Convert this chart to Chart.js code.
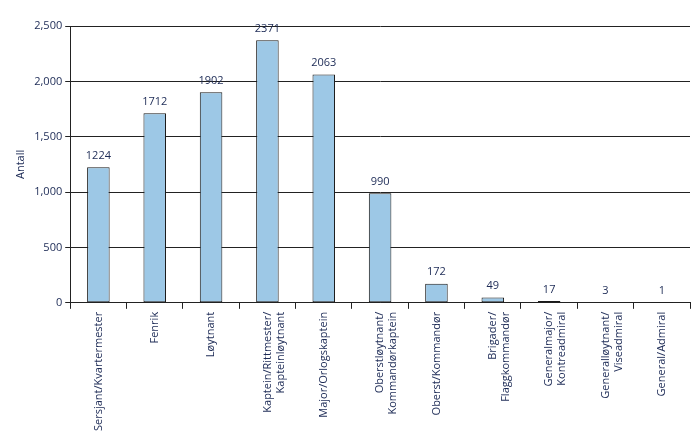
<!DOCTYPE html>
<html>
<head>
<meta charset="utf-8">
<script src="https://cdn.jsdelivr.net/npm/chart.js@4"></script>
<style>
  body { margin: 0; background: #fff; }
</style>
</head>
<body>
<canvas id="chart" width="700" height="438"></canvas>
<script>
// Kategorier og verdier
const categories = [
    ['Sersjant/Kvartermester'],
    ['Fenrik'],
    ['Løytnant'],
    ['Kaptein/Rittmester/', 'Kapteinløytnant'],
    ['Major/Orlogskaptein'],
    ['Oberstløytnant/', 'Kommandørkaptein'],
    ['Oberst/Kommandør'],
    ['Brigader/', 'Flaggkommandør'],
    ['Generalmajor/', 'Kontreadmiral'],
    ['Generalløytnant/', 'Viseadmiral'],
    ['General/Admiral']
];
const antall = [1224, 1712, 1902, 2371, 2063, 990, 172, 49, 17, 3, 1];
const yTicks = [0, 500, 1000, 1500, 2000, 2500];

const textColor = '#1c2a55';
const fontFamily = "'Open Sans', sans-serif";

// tall over stolpene
const valueLabels = {
    id: 'valueLabels',
    afterDatasetsDraw: (chart) => {
        var ctx = chart.ctx;
        var meta = chart.getDatasetMeta(0);
        ctx.save();
        ctx.fillStyle = textColor;
        ctx.font = '11px ' + fontFamily;
        ctx.textAlign = 'center';
        ctx.textBaseline = 'bottom';
        meta.data.forEach((bar, i) => {
            ctx.fillText(antall[i], bar.x, bar.y - 6);
        });
        ctx.restore();
    }
};

new Chart(document.getElementById('chart'), {
    type: 'bar',
    data: {
        labels: categories,
        datasets: [{
            data: antall,
            backgroundColor: '#9dc8e6',
            borderColor: '#1a1a1a',
            borderWidth: 1,
            borderSkipped: false,
            categoryPercentage: 0.8,
            barPercentage: 0.5
        }]
    },
    options: {
        responsive: false,
        animation: false,
        devicePixelRatio: 1,
        layout: { padding: { top: 26, right: 10, left: 10, bottom: 4 } },
        plugins: { legend: { display: false }, tooltip: { enabled: false } },
        scales: {
            x: {
                grid: { display: true, drawOnChartArea: false, offset: true, color: '#222', tickLength: 6 },
                border: { color: '#222' },
                ticks: { color: textColor, font: { family: fontFamily, size: 11 }, minRotation: 90, maxRotation: 90, autoSkip: false }
            },
            y: {
                min: 0, max: 2500,
                afterBuildTicks: (axis) => { axis.ticks = yTicks.map(v => ({ value: v })); },
                grid: { color: '#222', tickLength: 5 },
                border: { color: '#222' },
                ticks: { color: textColor, font: { family: fontFamily, size: 11 } },
                title: { display: true, text: 'Antall', color: textColor, font: { family: fontFamily, size: 11 } }
            }
        }
    },
    plugins: [valueLabels]
});
</script>
</body>
</html>
